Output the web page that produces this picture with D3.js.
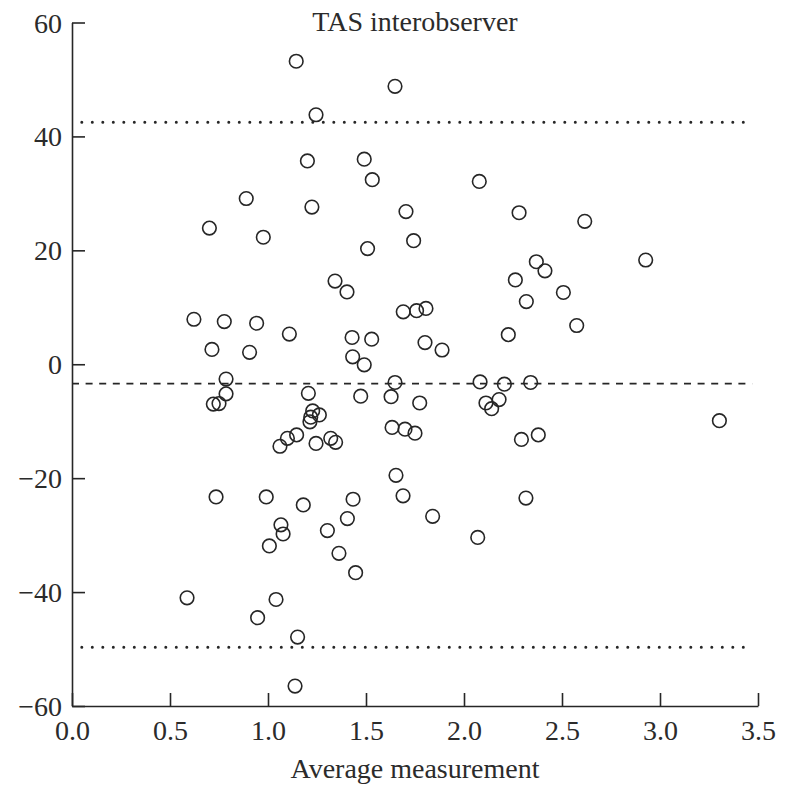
<!DOCTYPE html>
<html>
<head>
<meta charset="utf-8">
<script src="https://cdn.jsdelivr.net/npm/d3@7"></script>
<style>
  html, body { margin: 0; padding: 0; background: #fff; }
  svg text { font-family: "Liberation Serif", "Times New Roman", serif; fill: #2b2b2b; }
</style>
</head>
<body>
<div id="chart"></div>
<script>
// average of the two measurements (x) and their difference (y)
var avgValues = [
    1.144, 1.648, 1.245, 1.201, 1.491, 1.532, 0.889, 1.224, 1.704, 0.701,
    0.976, 1.743, 1.508, 1.342, 1.403, 1.690, 1.758, 1.806, 0.622, 0.777,
    0.942, 1.109, 1.429, 1.529, 1.801, 1.888, 0.714, 0.906, 1.432, 1.491,
    2.078, 2.281, 2.616, 2.927, 2.369, 2.413, 2.262, 2.507, 2.318, 2.575,
    2.226, 0.786, 0.786, 0.721, 0.750, 1.206, 1.228, 1.262, 1.218, 1.214,
    1.146, 1.099, 1.061, 1.245, 1.320, 1.345, 1.473, 1.648, 1.628, 1.774,
    1.633, 1.699, 1.750, 1.653, 0.735, 0.991, 1.180, 1.434, 1.689, 1.405,
    1.840, 1.303, 1.066, 1.077, 1.007, 1.362, 1.447, 0.587, 1.041, 0.947,
    1.151, 1.138, 2.082, 2.206, 2.340, 2.179, 2.112, 2.141, 3.303, 2.379,
    2.293, 2.316, 2.070
];
var diffValues = [
    53.2, 48.8, 43.8, 35.7, 36.0, 32.4, 29.1, 27.6, 26.8, 23.9,
    22.3, 21.7, 20.3, 14.6, 12.7, 9.2, 9.4, 9.8, 7.9, 7.5,
    7.2, 5.3, 4.7, 4.4, 3.8, 2.5, 2.6, 2.1, 1.3, -0.1,
    32.1, 26.6, 25.1, 18.3, 18.0, 16.4, 14.8, 12.6, 11.0, 6.8,
    5.2, -2.6, -5.2, -7.0, -6.9, -5.1, -8.2, -8.9, -9.3, -10.1,
    -12.4, -13.0, -14.4, -13.9, -13.0, -13.7, -5.6, -3.2, -5.7, -6.8,
    -11.1, -11.4, -12.1, -19.5, -23.3, -23.3, -24.7, -23.7, -23.1, -27.1,
    -26.7, -29.2, -28.2, -29.8, -31.9, -33.2, -36.6, -41.0, -41.3, -44.5,
    -47.9, -56.5, -3.1, -3.5, -3.2, -6.2, -6.8, -7.8, -9.9, -12.4,
    -13.2, -23.5, -30.4
];
var xTicks = [0, 0.5, 1.0, 1.5, 2.0, 2.5, 3.0, 3.5];
var yTicks = [60, 40, 20, 0, -20, -40, -60];
var meanDiff = -3.4;
var upperLimit = 42.5;
var lowerLimit = -49.7;
var titleText = 'TAS interobserver';
var xLabel = 'Average measurement';

var width = 788;
var height = 785;
var margin = { left: 72, right: 30, top: 22.5, bottom: 79 };
var ink = '#262626';

var svg = d3.select('#chart').append('svg')
    .attr('width', width)
    .attr('height', height);

var x = d3.scaleLinear()
    .domain([0, 3.5])
    .range([margin.left, width - margin.right]);
var y = d3.scaleLinear()
    .domain([-60, 60])
    .range([height - margin.bottom, margin.top]);

// axes, ticks pointing into the plot
var xAxis = d3.axisTop(x)
    .tickValues(xTicks)
    .tickSize(13)
    .tickSizeOuter(0)
    .tickFormat(d3.format('.1f'));
var yAxis = d3.axisRight(y)
    .tickValues(yTicks)
    .tickSize(13)
    .tickSizeOuter(0);

var gx = svg.append('g')
    .attr('transform', 'translate(0,' + y(-60) + ')')
    .call(xAxis);
var gy = svg.append('g')
    .attr('transform', 'translate(' + x(0) + ',0)')
    .call(yAxis);

[gx, gy].forEach(function (g) {
    g.selectAll('path, line')
        .attr('stroke', ink)
        .attr('stroke-width', 1.6);
});

gx.selectAll('text')
    .attr('y', 34)
    .attr('dy', 0)
    .attr('font-size', 28)
    .attr('fill', ink);
gy.selectAll('text')
    .attr('x', -10)
    .attr('dy', '0.34em')
    .attr('text-anchor', 'end')
    .attr('font-size', 28)
    .attr('fill', ink);

// limits of agreement and mean difference
svg.append('line')
    .attr('x1', x(0.05)).attr('x2', x(3.45))
    .attr('y1', y(upperLimit)).attr('y2', y(upperLimit))
    .attr('stroke', ink)
    .attr('stroke-width', 3)
    .attr('stroke-linecap', 'round')
    .attr('stroke-dasharray', '0 10.5');
svg.append('line')
    .attr('x1', x(0.05)).attr('x2', x(3.45))
    .attr('y1', y(lowerLimit)).attr('y2', y(lowerLimit))
    .attr('stroke', ink)
    .attr('stroke-width', 3)
    .attr('stroke-linecap', 'round')
    .attr('stroke-dasharray', '0 10.5');
svg.append('line')
    .attr('x1', x(0)).attr('x2', x(3.47))
    .attr('y1', y(meanDiff)).attr('y2', y(meanDiff))
    .attr('stroke', ink)
    .attr('stroke-width', 1.6)
    .attr('stroke-dasharray', '7 6.6');

var points = avgValues.map(function (a, i) {
    return { avg: a, diff: diffValues[i] };
});

svg.append('g')
    .selectAll('circle')
    .data(points)
    .join('circle')
    .attr('cx', function (d) { return x(d.avg); })
    .attr('cy', function (d) { return y(d.diff); })
    .attr('r', 6.8)
    .attr('fill', 'none')
    .attr('stroke', ink)
    .attr('stroke-width', 1.6);

svg.append('text')
    .attr('x', (x(0) + x(3.5)) / 2)
    .attr('y', 31)
    .attr('text-anchor', 'middle')
    .attr('font-size', 28)
    .text(titleText);

svg.append('text')
    .attr('x', (x(0) + x(3.5)) / 2)
    .attr('y', 778)
    .attr('text-anchor', 'middle')
    .attr('font-size', 28)
    .text(xLabel);
</script>
</body>
</html>
